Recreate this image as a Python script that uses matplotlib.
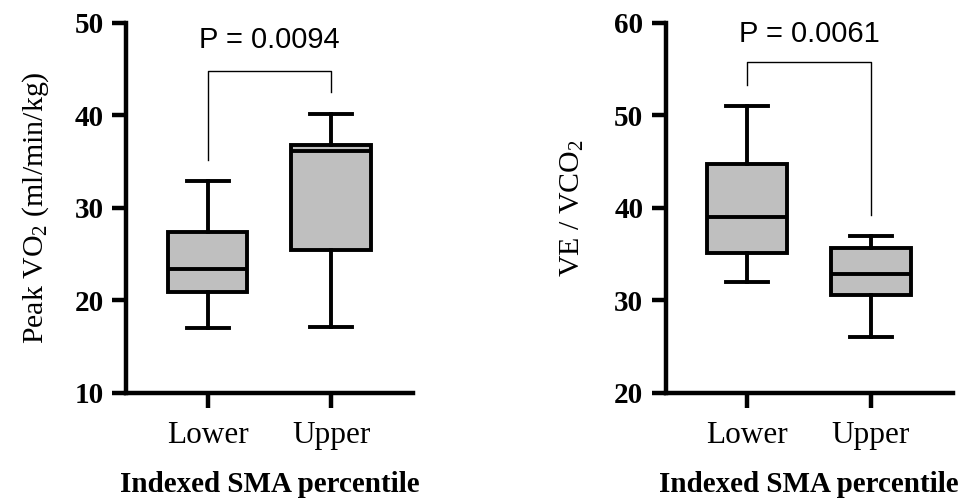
import matplotlib
matplotlib.use("Agg")
import matplotlib.pyplot as plt

GROUPS = ["Lower", "Upper"]

# Peak VO2 (ml/min/kg): whisker low, Q1, median, Q3, whisker high
VO2_LOW = [17.0, 17.1]
VO2_Q1 = [20.9, 25.4]
VO2_MED = [23.4, 36.2]
VO2_Q3 = [27.4, 36.8]
VO2_HIGH = [32.9, 40.1]
VO2_P = "P = 0.0094"

# VE / VCO2
VE_LOW = [32.0, 26.0]
VE_Q1 = [35.1, 30.6]
VE_MED = [39.0, 32.9]
VE_Q3 = [44.8, 35.7]
VE_HIGH = [51.0, 37.0]
VE_P = "P = 0.0061"

SERIF = "Liberation Serif"
SANS = "Liberation Sans"
BOX_GREY = "#bfbfbf"

plt.rcParams["mathtext.fontset"] = "custom"
plt.rcParams["mathtext.rm"] = SERIF
plt.rcParams["mathtext.it"] = SERIF + ":italic"
plt.rcParams["mathtext.bf"] = SERIF + ":bold"


def stats_for(low, q1, med, q3, high):
    out = []
    for i in range(len(GROUPS)):
        out.append({"whislo": low[i], "q1": q1[i], "med": med[i],
                    "q3": q3[i], "whishi": high[i], "fliers": [],
                    "label": GROUPS[i]})
    return out


def draw_panel(ax, stats, ylim, yticks, ylabel, ptext, bracket, ptext_y, ypad):
    lw = 2.8
    ax.bxp(stats, positions=[0, 1], widths=0.645, patch_artist=True,
           showfliers=False,
           boxprops=dict(facecolor=BOX_GREY, edgecolor="black", linewidth=lw),
           medianprops=dict(color="black", linewidth=lw),
           whiskerprops=dict(color="black", linewidth=lw),
           capprops=dict(color="black", linewidth=lw),
           capwidths=0.34)
    ax.set_xlim(-0.66, 1.66)
    ax.set_ylim(*ylim)
    ax.set_yticks(yticks)
    ax.set_yticklabels([str(t) for t in yticks], fontfamily=SERIF,
                       fontweight="bold", fontsize=21)
    ax.set_xticks([0, 1])
    ax.set_xticklabels(GROUPS, fontfamily=SERIF, fontsize=22.5)
    for s in ["top", "right"]:
        ax.spines[s].set_visible(False)
    for s in ["left", "bottom"]:
        ax.spines[s].set_linewidth(3.2)
    ax.tick_params(axis="y", length=10, width=3.2, pad=6)
    ax.tick_params(axis="x", length=11, width=3.2, pad=9)
    ax.set_ylabel(ylabel, fontfamily=SERIF, fontsize=21.5, labelpad=ypad)
    ax.set_xlabel("Indexed SMA percentile", fontfamily=SERIF,
                  fontweight="bold", fontsize=21, labelpad=15)
    left_bot, top, right_bot = bracket
    ax.plot([0, 0, 1, 1], [left_bot, top, top, right_bot], color="black",
            linewidth=1.0, clip_on=False)
    ax.text(0.5, ptext_y, ptext, ha="center", va="center",
            fontfamily=SANS, fontsize=21, clip_on=False)


fig = plt.figure(figsize=(9.76, 4.98), dpi=100)
ax1 = fig.add_axes([0.129, 0.211, 0.294, 0.743])
ax2 = fig.add_axes([0.682, 0.211, 0.294, 0.743])

draw_panel(ax1, stats_for(VO2_LOW, VO2_Q1, VO2_MED, VO2_Q3, VO2_HIGH),
           (10, 50), [10, 20, 30, 40, 50],
           r"Peak VO$_\mathrm{2}$ (ml/min/kg)", VO2_P, (35.2, 44.8, 42.5), 48.1, 17)
draw_panel(ax2, stats_for(VE_LOW, VE_Q1, VE_MED, VE_Q3, VE_HIGH),
           (20, 60), [20, 30, 40, 50, 60],
           r"VE / VCO$_\mathrm{2}$", VE_P, (53.3, 55.8, 39.2), 58.8, 20)

fig.savefig("out.png", dpi=100)
